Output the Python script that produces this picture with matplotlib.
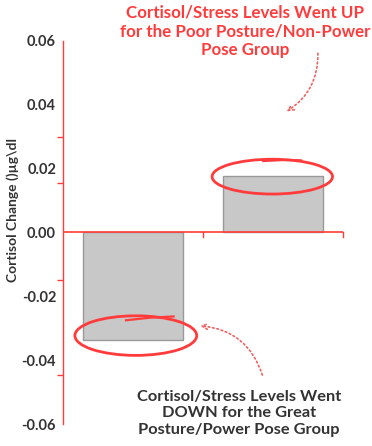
import matplotlib.pyplot as plt
from matplotlib.patches import Ellipse

# data
groups = ['Great Posture/Power Pose', 'Poor Posture/Non-Power Pose']
cortisol_change = [-0.0336, 0.0177]
tick_labels = [0.06, 0.04, 0.02, 0.00, -0.02, -0.04, -0.06]
tick_marks = [0.06, 0.04, 0.030, 0.0155, 0.0, -0.015, -0.04, -0.0445, -0.06]

red = '#ff3b3b'
dark = '#333333'
plt.rcParams['font.family'] = ['Lato', 'DejaVu Sans']

fig = plt.figure(figsize=(3.72, 4.46), dpi=100)
ax = fig.add_axes([63 / 372, 22 / 446, 280 / 372, 383 / 446])

x = list(range(len(groups)))
ax.bar(x, cortisol_change, width=0.72, color='#c8c8c8', edgecolor='#999999', linewidth=1, zorder=2)

ax.set_xlim(-0.5, 1.5)
ax.set_ylim(-0.06, 0.06)

# axes styling
for s in ['top', 'right', 'bottom']:
    ax.spines[s].set_visible(False)
ax.spines['left'].set_color(red)
ax.spines['left'].set_linewidth(1)
ax.axhline(0, color=red, linewidth=1.2, zorder=3)
ax.set_xticks([0.5, 1.5])
ax.set_xticklabels([])
ax.tick_params(axis='x', length=0)
for xt in [0.5, 1.5]:
    ax.plot([xt, xt], [0, -0.0013], color=red, linewidth=1, clip_on=False, zorder=3)

ax.set_yticks(tick_labels)
ax.set_yticklabels([f'{v:.2f}' for v in tick_labels], fontsize=10.5, fontweight='bold', color=dark)
ax.tick_params(axis='y', length=0, pad=5)
ax.set_yticks(tick_marks, minor=True)
ax.tick_params(axis='y', which='minor', length=4, color=red, width=1)

ax.set_ylabel('Cortisol Change ()µg\\dl', fontsize=10, fontweight='bold', color=dark)
ax.yaxis.set_label_coords(-0.158, 0.56)

# hand-drawn circles around the bars
ax.add_patch(Ellipse((0.995, 0.0175), 0.86, 0.0109, fill=False, edgecolor=red, linewidth=2, zorder=4))
ax.plot([0.93, 1.07, 1.2], [0.0224, 0.0227, 0.0226], color=red, linewidth=1.6, zorder=4)
ax.add_patch(Ellipse((0.02, -0.0323), 0.87, 0.0124, fill=False, edgecolor=red, linewidth=2, zorder=4))
ax.plot([-0.05, 0.12, 0.29], [-0.0275, -0.0267, -0.0263], color=red, linewidth=1.6, zorder=4)

# annotations
ax.text(0.80, 0.0630, 'Cortisol/Stress Levels Went UP\nfor the Poor Posture/Non-Power\nPose Group',
        ha='center', va='center', fontsize=12.2, fontweight='bold', color=red,
        linespacing=1.2, clip_on=False)
ax.annotate('', xy=(1.08, 0.0375), xytext=(1.32, 0.057),
            arrowprops=dict(arrowstyle='->', linestyle=':', color='#f06060', lw=1.2,
                            connectionstyle='arc3,rad=-0.3'), annotation_clip=False)

ax.text(0.755, -0.0567, 'Cortisol/Stress Levels Went\nDOWN for the Great\nPosture/Power Pose Group',
        ha='center', va='center', fontsize=11.8, fontweight='bold', color=dark,
        linespacing=1.2, clip_on=False)
ax.annotate('', xy=(0.46, -0.0292), xytext=(0.93, -0.0455),
            arrowprops=dict(arrowstyle='->', linestyle=':', color='#f06060', lw=1.2,
                            connectionstyle='arc3,rad=0.35'), annotation_clip=False)

fig.savefig('out.png', dpi=100)
